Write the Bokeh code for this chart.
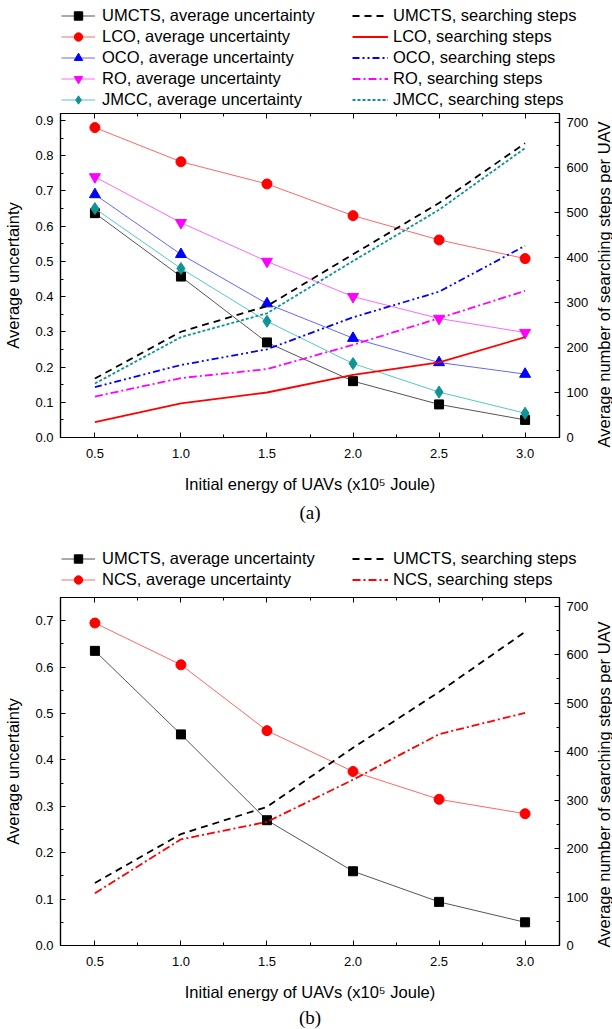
import math
from bokeh.plotting import figure
from bokeh.models import (Range1d, LinearAxis, Legend, LegendItem, SingleIntervalTicker,
                          FixedTicker, NumeralTickFormatter, Title, CustomJSTickFormatter)
from bokeh.layouts import column, row
from bokeh.embed import file_html
from bokeh.resources import INLINE

# ---------------- data ----------------
energy = [0.5, 1.0, 1.5, 2.0, 2.5, 3.0]

# panel (a): average uncertainty (left axis)
umcts_unc_a = [0.637, 0.457, 0.270, 0.160, 0.094, 0.050]
lco_unc = [0.880, 0.783, 0.720, 0.630, 0.561, 0.508]
oco_unc = [0.690, 0.520, 0.380, 0.282, 0.213, 0.180]
ro_unc = [0.740, 0.610, 0.500, 0.400, 0.338, 0.298]
jmcc_unc = [0.650, 0.480, 0.330, 0.210, 0.129, 0.069]
# panel (a): searching steps (right axis)
umcts_steps_a = [131, 235, 292, 407, 521, 654]
lco_steps = [34, 76, 100, 139, 167, 223]
oco_steps = [112, 161, 196, 267, 324, 426]
ro_steps = [91, 132, 152, 206, 265, 326]
jmcc_steps = [120, 223, 276, 392, 506, 643]

# panel (b)
umcts_unc_b = [0.635, 0.455, 0.270, 0.160, 0.094, 0.050]
ncs_unc = [0.695, 0.605, 0.463, 0.375, 0.315, 0.284]
umcts_steps_b = [129, 230, 286, 408, 523, 647]
ncs_steps = [108, 219, 255, 342, 436, 480]

x_label = "Initial energy of UAVs (x10\u2075 Joule)"
yl_label = "Average uncertainty"
yr_label = "Average number of searching steps per UAV"

FONT = "Liberation Sans"
NAN = float("nan")
minor_x = [(a + b) / 2 for a, b in zip(energy[:-1], energy[1:])]

# series styles: (line colour, marker, marker colour, marker size)
UNC_STYLE = {
    "UMCTS": ("#555555", "square", "black", 9),
    "LCO": ("#ff6666", "circle", "#ff0000", 10),
    "OCO": ("#6666ff", "triangle", "#0000ff", 11),
    "RO": ("#ff66ff", "inverted_triangle", "#ff00ff", 11),
    "JMCC": ("#55c8c8", "diamond", "#0e9494", 12),
    "NCS": ("#ff6666", "circle", "#ff0000", 10),
}
# (colour, dash)
STEP_STYLE = {
    "UMCTS": ("black", "7 5"),
    "LCO": ("#ff0000", "solid"),
    "OCO": ("#0000ff", "7 3 2 3 2 3"),
    "RO": ("#ff00ff", "8 3 2 3"),
    "JMCC": ("#0e9494", "3 2"),
    "NCS": ("#ff0000", "8 3 2 3"),
}

PLOT_W = 592
SIDE_W = 612 - PLOT_W


def style_axis(ax):
    ax.major_tick_in = 5
    ax.major_tick_out = 0
    ax.minor_tick_in = 3
    ax.minor_tick_out = 0
    ax.axis_line_color = "black"
    ax.axis_line_width = 1.2
    ax.major_tick_line_color = "black"
    ax.minor_tick_line_color = "black"
    ax.major_label_text_font = FONT
    ax.major_label_text_font_size = "13px"
    ax.major_label_text_color = "black"
    ax.axis_label_text_font = FONT
    ax.axis_label_text_font_size = "16.5px"
    ax.axis_label_text_font_style = "normal"
    ax.axis_label_text_color = "black"


def blank_fig(width, height, top=0, bottom=0):
    f = figure(width=width, height=height, output_backend="svg", toolbar_location=None,
               x_range=Range1d(0, 1), y_range=Range1d(0, 1),
               x_axis_type=None, y_axis_type=None,
               min_border_left=0, min_border_right=0,
               min_border_top=top, min_border_bottom=bottom)
    f.outline_line_color = None
    f.xgrid.visible = False
    f.ygrid.visible = False
    return f


def make_fig(height, top, bottom, yl_max, yr_max, tag, tag_standoff):
    p = figure(width=PLOT_W, height=height, output_backend="svg", toolbar_location=None,
               x_range=Range1d(0.3, 3.2), y_range=Range1d(0, yl_max),
               min_border_left=60, min_border_right=PLOT_W - 559,
               min_border_top=top, min_border_bottom=bottom)
    p.extra_y_ranges = {"steps": Range1d(0, yr_max)}
    p.outline_line_color = "black"
    p.outline_line_width = 1.2
    p.xgrid.visible = False
    p.ygrid.visible = False

    xa = p.xaxis[0]
    xa.ticker = FixedTicker(ticks=energy, minor_ticks=minor_x)
    xa.formatter = NumeralTickFormatter(format="0.0")
    xa.axis_label = x_label
    style_axis(xa)
    xa.major_label_standoff = 11
    xa.axis_label_standoff = 14

    ya = p.yaxis[0]
    ya.ticker = SingleIntervalTicker(interval=0.1, num_minor_ticks=2)
    ya.formatter = NumeralTickFormatter(format="0.0")
    ya.axis_label = yl_label
    style_axis(ya)
    ya.major_label_standoff = 7
    ya.axis_label_standoff = 10

    ra = LinearAxis(y_range_name="steps",
                    ticker=SingleIntervalTicker(interval=100, num_minor_ticks=2))
    style_axis(ra)
    ra.major_label_standoff = 7
    p.add_layout(ra, "right")

    ta = LinearAxis(ticker=FixedTicker(ticks=energy, minor_ticks=minor_x),
                    formatter=CustomJSTickFormatter(code="return ''"))
    style_axis(ta)
    ta.major_label_text_font_size = "0px"
    ta.major_label_standoff = 0
    p.add_layout(ta, "above")

    t = Title(text=tag, align="center", text_font="Liberation Serif",
              text_font_size="19px", text_font_style="normal", text_color="black")
    if "standoff" in Title.properties():
        t.standoff = tag_standoff
    p.add_layout(t, "below")
    return p


def right_label_fig(height, top, bottom, shift_down):
    """Narrow strip (same borders as its panel) holding the right-axis title,
    read from bottom to top, starting a little below the frame bottom."""
    f = blank_fig(SIDE_W, height, top, bottom)
    t = Title(text=yr_label, align="left", offset=-shift_down, text_font=FONT,
              text_font_size="16.5px", text_font_style="normal", text_color="black")
    if "standoff" in Title.properties():
        t.standoff = 0
    f.add_layout(t, "left")
    return f


def draw_unc(p, name, y):
    lc, mk, mc, sz = UNC_STYLE[name]
    p.line(energy, y, line_color=lc, line_width=1)
    p.scatter(energy, y, marker=mk, size=sz, fill_color=mc, line_color=mc)


def draw_steps(p, name, y):
    c, d = STEP_STYLE[name]
    p.line(energy, y, y_range_name="steps", line_color=c, line_width=1.8, line_dash=d)


def legend_fig(height, unc_names, step_names, bottom_y):
    """A strip above a panel that holds its two-column legend."""
    f = blank_fig(612, height)
    left_items, right_items = [], []
    for n in unc_names:
        lc, mk, mc, sz = UNC_STYLE[n]
        l = f.line([NAN], [NAN], line_color=lc, line_width=1)
        s = f.scatter([NAN], [NAN], marker=mk, size=sz, fill_color=mc, line_color=mc)
        left_items.append(LegendItem(label=f"{n}, average uncertainty", renderers=[l, s]))
    for n in step_names:
        c, d = STEP_STYLE[n]
        l = f.line([NAN], [NAN], line_color=c, line_width=1.8, line_dash=d)
        right_items.append(LegendItem(label=f"{n}, searching steps", renderers=[l]))
    for items, x, gw, so in ((left_items, 61, 34, 7), (right_items, 352, 36, 5)):
        leg = Legend(items=items, location=(x, bottom_y), orientation="vertical",
                     padding=0, spacing=0, margin=0, glyph_width=gw, glyph_height=21,
                     label_height=21, label_standoff=so, label_text_font=FONT,
                     label_text_font_size="16.5px", label_text_color="black",
                     border_line_alpha=0, background_fill_alpha=0)
        f.add_layout(leg)
    return f


# ---------------- panel (a) ----------------
names_a = ["UMCTS", "LCO", "OCO", "RO", "JMCC"]
la = legend_fig(110, names_a, names_a, 0)
pa = make_fig(420, 3, 93, 0.92, 720, "(a)", 8)
for n, y in zip(names_a, [umcts_unc_a, lco_unc, oco_unc, ro_unc, jmcc_unc]):
    draw_unc(pa, n, y)
for n, y in zip(names_a, [umcts_steps_a, lco_steps, oco_steps, ro_steps, jmcc_steps]):
    draw_steps(pa, n, y)
sa = right_label_fig(420, 3, 93, 10)

# ---------------- panel (b) ----------------
names_b = ["UMCTS", "NCS"]
lb = legend_fig(62, names_b, names_b, 2)
pb = make_fig(437, 5, 84, 0.75, 718, "(b)", 2)
for n, y in zip(names_b, [umcts_unc_b, ncs_unc]):
    draw_unc(pb, n, y)
for n, y in zip(names_b, [umcts_steps_b, ncs_steps]):
    draw_steps(pb, n, y)
sb = right_label_fig(437, 5, 84, 2)

layout = column(la, row(pa, sa), lb, row(pb, sb))
open("out.html", "w").write(file_html(layout, INLINE))
